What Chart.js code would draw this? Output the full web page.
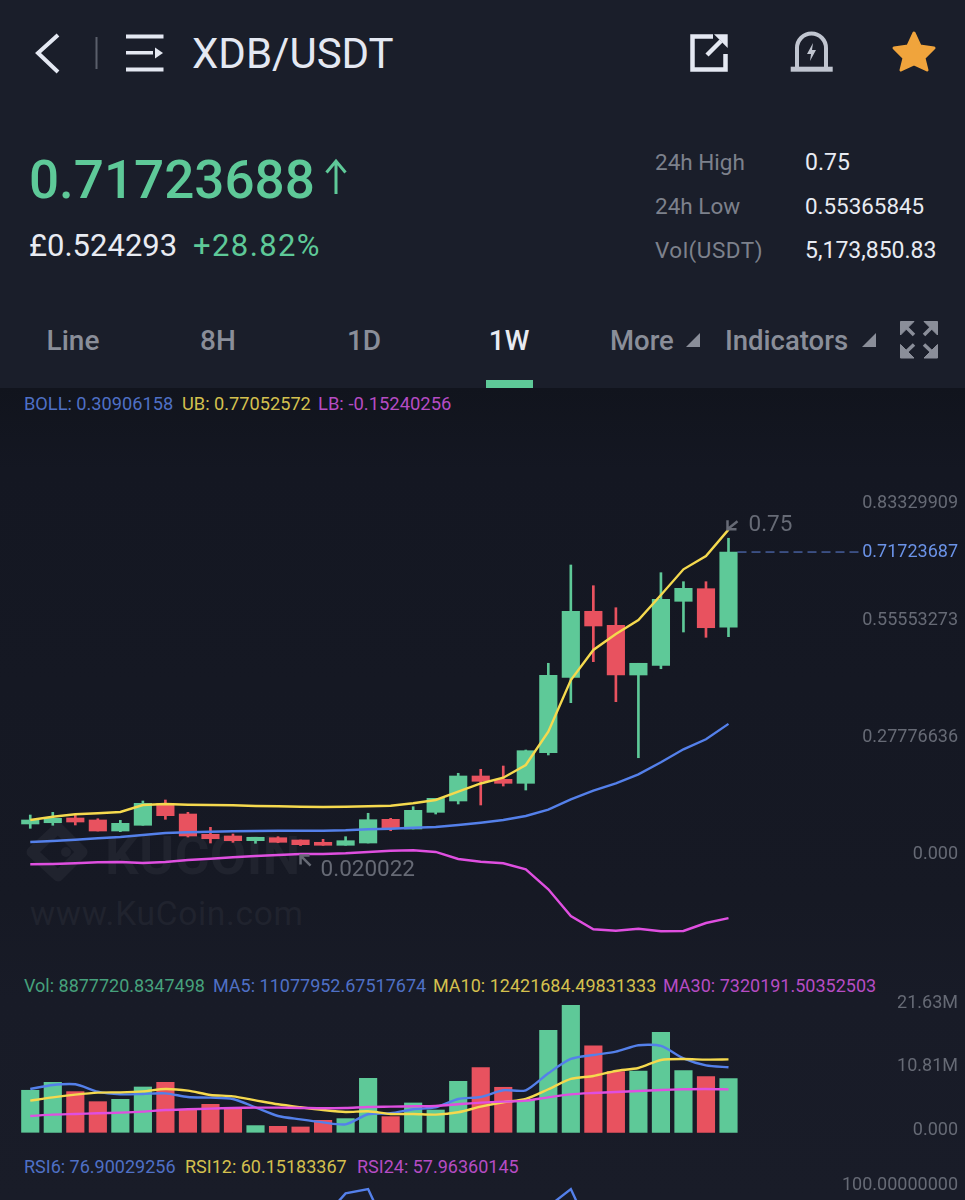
<!DOCTYPE html>
<html><head><meta charset="utf-8">
<style>
html,body{margin:0;padding:0;background:#161924;}
#page{position:relative;width:965px;height:1200px;overflow:hidden;font-family:Roboto,sans-serif;
background:linear-gradient(#11141d 388px,#141722 470px,#161924 900px,#181b27 1000px,#191c28 1200px);}
#head{position:absolute;left:0;top:0;width:965px;height:388px;background:#1a1e2a;}
.t{position:absolute;white-space:nowrap;transform:translateY(-50%);line-height:1;}
.c{transform:translate(-50%,-50%);}
canvas{position:absolute;left:0;}
svg{position:absolute;left:0;top:0;}
</style></head><body>
<div id="page">
<div id="head"></div>
<svg width="965" height="388" fill="none">
 <polyline points="58,35 38,53 58,72" stroke="#e4e8f2" stroke-width="4"/>
 <line x1="96.5" y1="37" x2="96.5" y2="69" stroke="#5a5f6b" stroke-width="2"/>
 <g fill="#e4e8f2"><rect x="126" y="34.5" width="37.5" height="4"/><rect x="126" y="51" width="27" height="3.5"/><rect x="126" y="67.5" width="37.5" height="4"/><polygon points="155,47.5 163,53 155,58.5"/></g>
 <path d="M713 36.5H692.5V69.5H725.5V54" stroke="#e4e8f2" stroke-width="4.5"/>
 <path d="M707 55L721 41" stroke="#e4e8f2" stroke-width="4.5"/><polygon points="714,34.3 727.7,34.3 727.7,48" fill="#e4e8f2"/>
 <path d="M797 67V48a14.5 14.5 0 0 1 29 0V67" stroke="#c0c5d0" stroke-width="4"/>
 <rect x="790.7" y="66.7" width="42" height="5" fill="#c0c5d0"/>
 <polygon points="813,43 807,54 811,54 810,61 816,50 812,50" fill="#c0c5d0"/>
 <path d="M914 33L920 46L934 48L924 58L927 70L914 64L901 70L904 58L894 48L908 46Z" fill="#f0a43c" stroke="#f0a43c" stroke-width="3" stroke-linejoin="round"/>
 <path d="M336 194V163M326.5 172.5L336 161L345.5 172.5" stroke="#5ec998" stroke-width="3"/>
 <rect x="486" y="380" width="47" height="8" fill="#5ec998"/>
 <polygon points="700,333 700,347 686,347" fill="#8a8e99"/>
 <polygon points="876,333 876,347 862,347" fill="#8a8e99"/>
 <g fill="#8a8e99" stroke="#8a8e99">
  <polygon points="900.5,321.5 914,321.5 900.5,335" /><polygon points="937.5,321.5 924,321.5 937.5,335"/>
  <polygon points="900.5,358 914,358 900.5,344.5"/><polygon points="937.5,358 924,358 937.5,344.5"/>
  <path d="M904 325L914 335M934 325L924 335M904 354L914 344.5M934 354L924 344.5" stroke-width="3.5"/>
 </g>
</svg>
<div class="t" style="left:192px;top:54px;font-size:42px;color:#e4e8f2;">XDB/USDT</div>
<div class="t" style="left:29px;top:180px;font-size:53px;font-weight:500;color:#5ec998;">0.71723688</div>
<div class="t" style="left:29px;top:245px;font-size:31px;color:#e8ebf2;">£0.524293</div>
<div class="t" style="left:193px;top:245px;font-size:31px;color:#5ec998;letter-spacing:1.4px;">+28.82%</div>
<div class="t" style="left:655px;top:162px;font-size:22.5px;color:#7d818c;">24h High</div>
<div class="t" style="left:655px;top:206px;font-size:22.5px;color:#7d818c;">24h Low</div>
<div class="t" style="left:655px;top:250px;font-size:22.5px;color:#7d818c;letter-spacing:.5px;">Vol(USDT)</div>
<div class="t" style="left:805px;top:162px;font-size:23px;color:#e8ebf2;">0.75</div>
<div class="t" style="left:805px;top:206px;font-size:22.4px;color:#e8ebf2;">0.55365845</div>
<div class="t" style="left:805px;top:250px;font-size:23px;color:#e8ebf2;">5,173,850.83</div>
<div class="t c" style="left:73px;top:341px;font-size:28px;font-weight:500;color:#8a8e99;">Line</div>
<div class="t c" style="left:218px;top:341px;font-size:28px;font-weight:500;color:#8a8e99;">8H</div>
<div class="t c" style="left:364px;top:341px;font-size:28px;font-weight:500;color:#8a8e99;">1D</div>
<div class="t c" style="left:509px;top:341px;font-size:28px;font-weight:500;color:#e8ebf2;">1W</div>
<div class="t" style="left:610px;top:341px;font-size:27.5px;font-weight:500;color:#8a8e99;">More</div>
<div class="t" style="left:725px;top:341px;font-size:27.5px;font-weight:500;color:#8a8e99;">Indicators</div>
<div class="t" style="left:24px;top:404px;font-size:18.2px;color:#4f70c5;">BOLL: 0.30906158</div>
<div class="t" style="left:182px;top:404px;font-size:18.2px;color:#d4c04e;">UB: 0.77052572</div>
<div class="t" style="left:318px;top:404px;font-size:18.4px;color:#b64cc4;">LB: -0.15240256</div>
<div class="t" style="left:24px;top:986px;font-size:18px;color:#46a17c;">Vol: 8877720.8347498</div>
<div class="t" style="left:213px;top:986px;font-size:18px;color:#4f70c5;">MA5: 11077952.67517674</div>
<div class="t" style="left:433px;top:986px;font-size:18px;color:#d4c04e;">MA10: 12421684.49831333</div>
<div class="t" style="left:663px;top:986px;font-size:18px;color:#b64cc4;">MA30: 7320191.50352503</div>
<div class="t" style="left:24px;top:1167px;font-size:18px;color:#4f70c5;">RSI6: 76.90029256</div>
<div class="t" style="left:185px;top:1167px;font-size:18px;color:#d4c04e;">RSI12: 60.15183367</div>
<div class="t" style="left:357px;top:1167px;font-size:18px;color:#b64cc4;">RSI24: 57.96360145</div>
<svg width="965" height="1200" fill="none">
 <path d="M58 828L32 852L58 876L82 852Z" stroke="#20232e" stroke-width="11" stroke-linejoin="round"/>
 <circle cx="66" cy="852" r="5" fill="#20232e"/>
</svg>
<div class="t" style="left:105px;top:856px;font-size:53px;font-weight:700;color:#20232e;letter-spacing:.5px;">KUCOIN</div>
<div class="t" style="left:30px;top:914px;font-size:33.5px;color:#20232e;letter-spacing:.7px;">www.KuCoin.com</div>
<canvas id="priceChart" width="965" height="560" style="top:410px"></canvas>
<canvas id="volChart" width="965" height="165" style="top:985px"></canvas>
<canvas id="rsiChart" width="965" height="40" style="top:1160px"></canvas>
</div>
<script src="https://cdn.jsdelivr.net/npm/chart.js@4/dist/chart.umd.min.js"></script>
<script>
const weeks = ['W1','W2','W3','W4','W5','W6','W7','W8','W9','W10','W11','W12','W13','W14','W15','W16','W17','W18','W19','W20','W21','W22','W23','W24','W25','W26','W27','W28','W29','W30','W31','W32'];
const futureSlots = ['','','','','','','','','',''];
const opens  = [.0713,.0743,.0855,.0808,.0546,.0682,.1204,.0950,.0468,.0428,.0316,.0387,.0333,.0278,.0207,.0261,.0824,.0594,.0990,.1259,.1853,.1774,.1679,.2406,.4197,.5765,.5432,.4252,.4482,.6002,.6302,.5385];
const closes = [.0808,.0848,.0760,.0546,.0729,.1204,.0910,.0428,.0363,.0316,.0397,.0278,.0221,.0207,.0316,.0815,.0618,.1038,.1323,.1853,.1727,.1679,.2454,.4245,.5765,.5416,.4252,.4530,.6050,.6311,.5375,.71723687];
const highs  = [.0926,.0990,.0926,.0838,.0800,.1259,.1283,.0990,.0634,.0475,.0397,.0411,.0333,.0349,.0411,.0967,.0848,.1124,.1323,.1917,.2012,.2090,.2470,.4530,.6865,.6373,.5850,.4530,.6682,.6468,.6468,.75];
const lows   = [.0610,.0682,.0689,.0546,.0530,.0682,.0824,.0404,.0261,.0278,.0254,.0268,.020022,.0205,.0207,.0261,.0553,.0594,.0950,.1188,.1164,.1615,.1520,.2352,.3594,.4568,.3618,.2287,.4401,.5273,.5147,.5162];
const bollUpper = [.0808,.0886,.0943,.0967,.0998,.1164,.1188,.1171,.1164,.1157,.1140,.1133,.1124,.1116,.1124,.1133,.1147,.1204,.1283,.1480,.1675,.1812,.2114,.2905,.4133,.4846,.5226,.5558,.6152,.6762,.7078,.7705];
const bollMid   = [.0285,.0309,.0340,.0373,.0404,.0451,.0499,.0515,.0530,.0539,.0546,.0553,.0553,.0553,.0563,.0587,.0601,.0625,.0641,.0689,.0743,.0808,.0903,.1052,.1299,.1504,.1679,.1893,.2178,.2487,.2724,.3091];
const bollLower = [-.0245,-.0238,-.0221,-.0197,-.0190,-.0214,-.0190,-.0143,-.0112,-.0078,-.0048,-.0024,0,0,.0017,.0048,.0078,.0088,.0048,-.0119,-.0183,-.0221,-.0363,-.0838,-.1473,-.1789,-.1822,-.1774,-.1836,-.1829,-.1639,-.1524];
const volume = [7.16,8.52,6.93,5.22,5.62,7.72,8.52,3.92,4.77,4.09,1.14,1.02,.91,2.04,2.33,9.20,2.67,5.00,3.80,8.69,11.02,7.67,5.45,17.38,21.63,14.71,10.33,10.45,17.04,10.51,9.48,9.14];
const volMa5  = [7.38,8.06,8.18,6.93,6.47,6.53,6.64,6.02,5.91,5.68,4.26,2.78,2.21,1.70,1.36,3.07,3.24,3.92,4.26,5.68,6.02,7.16,7.16,10.05,12.49,13.17,13.74,14.82,14.71,12.61,11.41,11.08];
const volMa10 = [5.39,5.96,6.42,6.76,6.81,6.98,7.38,7.10,6.36,6.13,5.45,4.77,4.26,3.80,3.46,3.58,3.12,3.12,3.01,3.41,4.37,5.11,5.68,7.33,9.09,9.60,10.45,10.96,12.32,12.49,12.38,12.42];
const volMa30 = [2.78,3.01,3.12,3.24,3.35,3.52,3.80,3.92,4.03,4.15,4.20,4.20,4.15,4.09,4.15,4.32,4.37,4.43,4.49,4.77,5.05,5.22,5.39,5.96,6.47,6.70,6.87,7.04,7.21,7.33,7.38,7.32];
const rsi6 = [null,null,null,null,null,null,null,null,null,null,null,null,null,75,95,98.4,60,null,null,null,null,null,null,84.5,98.4,60,null,null,null,null,null,null];
const priceTicks = [0.83329909,0.71723687,0.55553273,0.27776636,0];
const priceTickLabels = ['0.83329909','0.71723687','0.55553273','0.27776636','0.000'];
const volTicks = [21.63,10.81,0];
const volTickLabels = ['21.63M','10.81M','0.000'];
const rsiTicks = [100];
const rsiTickLabels = ['100.00000000'];
const highLabel = '0.75', lowLabel = '0.020022';

const GREEN='#5ec998', RED='#e8525f', YEL='#f5d94e', BLU='#5480ea', MAG='#df4fe0', GREY='#666a75';
const labels = weeks.concat(futureSlots);
const candleColor = closes.map((c,i)=> c>=opens[i]?GREEN:RED);
const lineDs = (data,color,w,tension)=>({type:'line',data,borderColor:color,borderWidth:w,pointRadius:0,tension:tension,order:1,fill:false,spanGaps:false});
const xScale = {type:'category',display:false,offset:true,grid:{display:false}};
const yScale = (min,max,ticks,tlabels,off,colorFn)=>({
  position:'right',min,max,
  grid:{display:false,drawTicks:false},border:{display:false},
  afterBuildTicks(s){s.ticks=ticks.map(v=>({value:v}));},
  afterFit(s){s.width=0;s.paddingTop=0;s.paddingBottom=0;},
  ticks:{mirror:true,padding:-7,labelOffset:off,autoSkip:false,font:{family:'Roboto',size:18},color:colorFn||GREY,
    callback(v,i){return tlabels[i];}}
});
const base = {responsive:false,animation:false,
  layout:{padding:{left:19,right:0,top:10,bottom:10}},
  plugins:{legend:{display:false},tooltip:{enabled:false}}};

const annotate = {id:'annotate',afterDatasetsDraw(ch){
  const c=ch.ctx,x=ch.scales.x,y=ch.scales.y,last=closes.length-1;
  const lx=x.getPixelForValue(last), ly=y.getPixelForValue(closes[last]);
  c.save();
  c.strokeStyle='#5f82d9';c.lineWidth=1;c.setLineDash([9,5]);
  c.beginPath();c.moveTo(lx+9,ly);c.lineTo(863,ly);c.stroke();c.setLineDash([]);
  c.strokeStyle=GREY;c.fillStyle=GREY;c.lineWidth=2.5;c.font='22.5px Roboto';c.textBaseline='middle';
  const hy=y.getPixelForValue(highs[last])-9;
  c.beginPath();c.moveTo(lx+9,hy-8);c.lineTo(lx-1,hy);c.moveTo(lx-1,hy-9);c.lineTo(lx-1,hy);c.lineTo(lx+8,hy);c.stroke();
  c.fillText(highLabel,lx+20,hy-4);
  const li=lows.indexOf(Math.min(...lows));
  const qx=x.getPixelForValue(li), qy=y.getPixelForValue(lows[li])+10;
  c.beginPath();c.moveTo(qx+10,qy+10);c.lineTo(qx,qy);c.moveTo(qx,qy+9);c.lineTo(qx,qy);c.lineTo(qx+9,qy);c.stroke();
  c.fillText(lowLabel,qx+20,qy+15);
  c.restore();
}};

new Chart(document.getElementById('priceChart'),{
  data:{labels,datasets:[
    lineDs(bollUpper,YEL,2.4,0),lineDs(bollMid,BLU,2.4,0),lineDs(bollLower,MAG,2.4,0),
    {type:'bar',data:opens.map((o,i)=>[Math.min(o,closes[i]),Math.max(o,closes[i])]),backgroundColor:candleColor,barThickness:17.5,grouped:false,order:2},
    {type:'bar',data:lows.map((l,i)=>[l,highs[i]]),backgroundColor:candleColor,barThickness:2,grouped:false,order:3}
  ]},
  options:{...base,scales:{x:xScale,
    y:yScale(-(960-854)/421,(854-420)/421,priceTicks,priceTickLabels,0,ctx=>ctx.tick&&ctx.tick.value===closes[closes.length-1]?'#6b93e8':GREY)}},
  plugins:[annotate]
});
new Chart(document.getElementById('volChart'),{
  data:{labels,datasets:[
    lineDs(volMa30,MAG,2.4,.25),lineDs(volMa10,YEL,2.4,.25),lineDs(volMa5,BLU,2.4,.25),
    {type:'bar',data:volume,backgroundColor:candleColor,barThickness:17.5,order:3}
  ]},
  options:{...base,scales:{x:xScale,y:yScale(-(1140-1132.3)/5.87,(1132.3-995)/5.87,volTicks,volTickLabels,-2)}}
});
new Chart(document.getElementById('rsiChart'),{
  data:{labels,datasets:[lineDs(rsi6,BLU,2.4,0)]},
  options:{...base,layout:{padding:{left:19,right:0,top:27,bottom:0}},
    scales:{x:xScale,y:yScale(100-13/1.27,100,rsiTicks,rsiTickLabels,-2)}}
});
</script>
</body></html>
